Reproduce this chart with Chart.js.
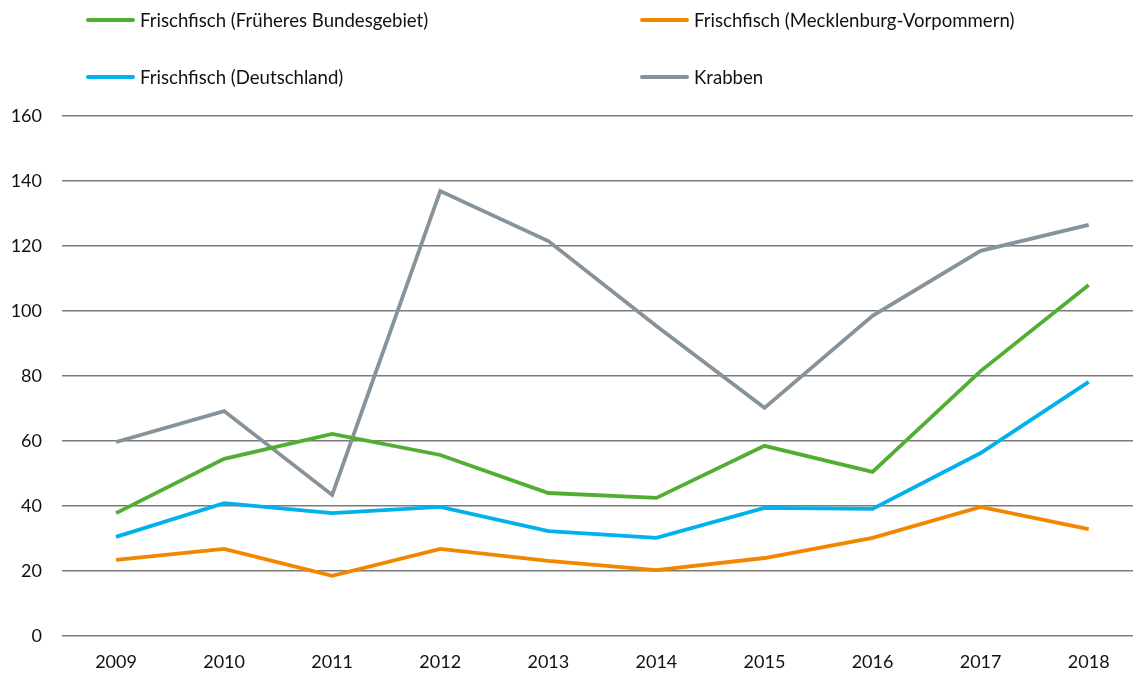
<!DOCTYPE html>
<html><head><meta charset="utf-8">
<script src="https://cdn.jsdelivr.net/npm/chart.js@4/dist/chart.umd.min.js"></script>
<style>
html,body{margin:0;padding:0;background:#fff;overflow:hidden;}
#wrap{position:relative;width:1133px;height:673px;}
#legend{position:absolute;left:0;top:0;width:1133px;height:100px;font-family:Lato,sans-serif;font-size:18.6px;color:#111;}
.li{position:absolute;display:flex;align-items:center;white-space:nowrap;}
.sw{width:49px;height:4px;border-radius:2px;margin-right:5px;}
</style></head>
<body><div id="wrap"><canvas id="c" width="1133" height="673"></canvas><div id="legend"></div></div>
<script>
const years = [2009, 2010, 2011, 2012, 2013, 2014, 2015, 2016, 2017, 2018];
const seriesNames = ["Frischfisch (Früheres Bundesgebiet)", "Frischfisch (Mecklenburg-Vorpommern)", "Frischfisch (Deutschland)", "Krabben"];
const fruheres = [37.8, 54.5, 62.2, 55.7, 44.0, 42.5, 58.5, 50.5, 81.5, 108.0];
const mecklenburg = [23.4, 26.8, 18.5, 26.8, 23.1, 20.3, 24.0, 30.2, 39.7, 32.9];
const deutschland = [30.5, 40.9, 37.8, 39.7, 32.3, 30.2, 39.4, 39.1, 56.3, 78.2];
const krabben = [59.7, 69.2, 43.4, 136.9, 121.5, 95.4, 70.2, 98.5, 118.5, 126.5];
const yTicks = [0, 20, 40, 60, 80, 100, 120, 140, 160];
const colors = ["#52ae32", "#f18700", "#00b1eb", "#87939a"];

const seriesData = [fruheres, mecklenburg, deutschland, krabben];
const datasets = seriesData.map((arr, i) => ({
  label: seriesNames[i],
  data: arr.map((v, j) => ({x: years[j], y: v})),
  borderColor: colors[i],
  backgroundColor: colors[i],
  borderWidth: 3.8,
  pointRadius: 0,
  tension: 0,
  fill: false,
  order: [2, 1, 3, 4][i]
}));

const fontFam = 'Lato, sans-serif';
new Chart(document.getElementById('c'), {
  type: 'line',
  data: { datasets },
  options: {
    responsive: false,
    animation: false,
    layout: { padding: { top: 116, right: 0, left: 0, bottom: 0 } },
    plugins: { legend: { display: false }, tooltip: { enabled: false } },
    scales: {
      x: {
        type: 'linear',
        min: 2008.5,
        max: 2018.41,
        afterBuildTicks: (s) => { s.ticks = years.map(v => ({value: v})); },
        afterFit: (s) => { s.height = 37; },
        grid: { display: false },
        border: { display: false },
        ticks: { color: '#111', font: { family: fontFam, size: 18 }, padding: 7, callback: (v) => String(v), maxRotation: 0 }
      },
      y: {
        min: 0, max: 160,
        afterBuildTicks: (s) => { s.ticks = yTicks.map(v => ({value: v})); },
        afterFit: (s) => { s.width = 62; },
        grid: { color: '#7a7a7a', lineWidth: 1.5, drawTicks: false },
        border: { display: false },
        ticks: { color: '#111', font: { family: fontFam, size: 18 }, padding: 20 }
      }
    }
  }
});

const legendPos = [[86, 20], [640, 20], [86, 77], [640, 77]];
const lg = document.getElementById('legend');
seriesNames.forEach((n, i) => {
  const d = document.createElement('div');
  d.className = 'li';
  d.style.left = legendPos[i][0] + 'px';
  d.style.top = (legendPos[i][1] - 12) + 'px';
  d.style.height = '24px';
  d.innerHTML = '<span class="sw" style="background:' + colors[i] + '"></span><span>' + n + '</span>';
  lg.appendChild(d);
});
</script></body></html>
